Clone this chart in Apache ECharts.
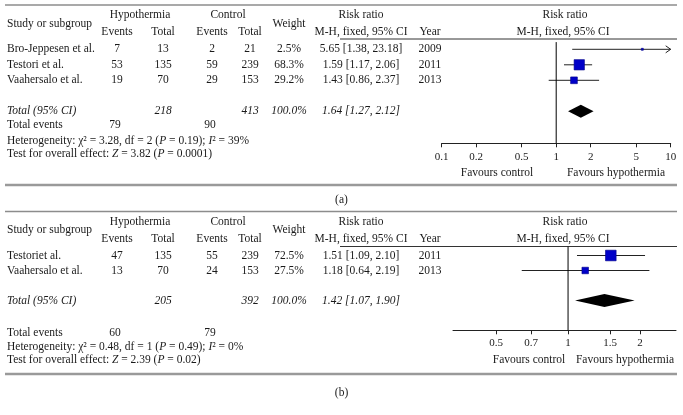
<!DOCTYPE html>
<html>
<head>
<meta charset="utf-8">
<script src="https://cdn.jsdelivr.net/npm/echarts@6/dist/echarts.min.js"></script>
<style>
  html, body { margin: 0; padding: 0; background: #fff; }
  #chart { width: 683px; height: 415px; }
</style>
</head>
<body>
<div id="chart"></div>
<script>
// ---- panel (a) data ----
const studiesA = ['Bro-Jeppesen et al.', 'Testori et al.', 'Vaahersalo et al.']
const hypEventsA = [7, 53, 19]
const hypTotalA = [13, 135, 70]
const ctlEventsA = [2, 59, 29]
const ctlTotalA = [21, 239, 153]
const weightA = [2.5, 68.3, 29.2]
const rrA = [5.65, 1.59, 1.43]
const lowA = [1.38, 1.17, 0.86]
const highA = [23.18, 2.06, 2.37]
const yearA = [2009, 2011, 2013]
const sumTotalsA = [218, 413]          // hypothermia, control
const sumEventsA = [79, 90]            // hypothermia, control
const pooledA = [1.64, 1.27, 2.12]     // rr, low, high
const hetA = ['3.28', '2', '0.19', '39'] // chi2, df, P, I2
const overallA = ['3.82', '0.0001']    // Z, P
const ticksA = [0.1, 0.2, 0.5, 1, 2, 5, 10]

// ---- panel (b) data ----
const studiesB = ['Testoriet al.', 'Vaahersalo et al.']
const hypEventsB = [47, 13]
const hypTotalB = [135, 70]
const ctlEventsB = [55, 24]
const ctlTotalB = [239, 153]
const weightB = [72.5, 27.5]
const rrB = [1.51, 1.18]
const lowB = [1.09, 0.64]
const highB = [2.10, 2.19]
const yearB = [2011, 2013]
const sumTotalsB = [205, 392]
const sumEventsB = [60, 79]
const pooledB = [1.42, 1.07, 1.90]
const hetB = ['0.48', '1', '0.49', '0']
const overallB = ['2.39', '0.02']
const ticksB = [0.5, 0.7, 1, 1.5, 2]

const FONT = 'Liberation Serif'
const INK = '#1a1a1a'
const BLUE = '#0000c8'

// column centres of the left table
const COL = { name: 7, hypEv: 117, hypTot: 163, ctlEv: 212, ctlTot: 250, weight: 289, rr: 361, year: 430, plot: 563 }

// vertical layout of each panel (pixels)
const layA = { top: 5, h1: 15, h2: 32, divider: 39, row0: 49.3, step: 15.5, events: 125, het: 140.5, test: 153.5, bottom: 185, caption: 200,
  favY: 173, favL: 497, favR: 616 }
const layB = { top: 211.5, h1: 221.5, h2: 238.5, divider: 246.5, row0: 255.5, step: 15, events: 333, het: 346.5, test: 359.5, bottom: 374, caption: 393,
  favY: 360, favL: 529, favR: 625 }

function txt (x, y, s, align, italic, size) {
  return {
    type: 'text', x: x, y: y, silent: true,
    style: {
      text: s, fill: INK, fontFamily: FONT, fontSize: size || 11.5,
      fontStyle: italic ? 'italic' : 'normal',
      align: align || 'center', verticalAlign: 'middle',
      textAlign: align || 'center', textVerticalAlign: 'middle'
    }
  }
}
function richTxt (x, y, s) {
  const t = txt(x, y, s, 'left')
  t.style.rich = { i: { fontStyle: 'italic', fontFamily: FONT, fontSize: 11.5, fill: INK } }
  return t
}
function hline (x1, x2, y, color, w) {
  return { type: 'line', silent: true, shape: { x1: x1, y1: y, x2: x2, y2: y }, style: { stroke: color, lineWidth: w } }
}
function fmtRR (v, lo, hi) {
  return v.toFixed(2) + ' [' + lo.toFixed(2) + ', ' + hi.toFixed(2) + ']'
}

// left table + header + footer text for one panel
function tableGraphics (L, d, caption) {
  const g = []
  g.push(hline(5, 677, L.top, '#8c8c8c', 1.5))
  g.push(hline(340, 677, L.divider, '#333', 1))
  g.push(hline(5, 677, L.bottom, '#9a9a9a', 2.5))
  const mid = (L.h1 + L.h2) / 2
  g.push(txt(COL.name, mid, 'Study or subgroup', 'left'))
  g.push(txt((COL.hypEv + COL.hypTot) / 2, L.h1, 'Hypothermia'))
  g.push(txt((COL.ctlEv + COL.ctlTot) / 2 - 3, L.h1, 'Control'))
  g.push(txt(COL.hypEv, L.h2, 'Events'))
  g.push(txt(COL.hypTot, L.h2, 'Total'))
  g.push(txt(COL.ctlEv, L.h2, 'Events'))
  g.push(txt(COL.ctlTot, L.h2, 'Total'))
  g.push(txt(COL.weight, mid, 'Weight'))
  g.push(txt(COL.rr, L.h1, 'Risk ratio'))
  g.push(txt(COL.rr, L.h2, 'M-H, fixed, 95% CI'))
  g.push(txt(COL.year, L.h2, 'Year'))
  g.push(txt(COL.plot + 2, L.h1, 'Risk ratio'))
  g.push(txt(COL.plot, L.h2, 'M-H, fixed, 95% CI'))

  d.studies.forEach(function (s, i) {
    const y = L.row0 + i * L.step
    g.push(txt(COL.name, y, s, 'left'))
    g.push(txt(COL.hypEv, y, String(d.hypEv[i])))
    g.push(txt(COL.hypTot, y, String(d.hypTot[i])))
    g.push(txt(COL.ctlEv, y, String(d.ctlEv[i])))
    g.push(txt(COL.ctlTot, y, String(d.ctlTot[i])))
    g.push(txt(COL.weight, y, d.weight[i].toFixed(1) + '%'))
    g.push(txt(COL.rr, y, fmtRR(d.rr[i], d.low[i], d.high[i])))
    g.push(txt(COL.year, y, String(d.year[i])))
  })
  const yt = L.row0 + (d.studies.length + 1) * L.step
  g.push(txt(COL.name, yt, 'Total (95% CI)', 'left', true))
  g.push(txt(COL.hypTot, yt, String(d.sumTotals[0]), 'center', true))
  g.push(txt(COL.ctlTot, yt, String(d.sumTotals[1]), 'center', true))
  g.push(txt(COL.weight, yt, '100.0%', 'center', true))
  g.push(txt(COL.rr, yt, fmtRR(d.pooled[0], d.pooled[1], d.pooled[2]), 'center', true))

  g.push(txt(COL.name, L.events, 'Total events', 'left'))
  g.push(txt(COL.hypEv - 2, L.events, String(d.sumEvents[0])))
  g.push(txt(COL.ctlEv - 2, L.events, String(d.sumEvents[1])))
  g.push(richTxt(COL.name, L.het, 'Heterogeneity: χ² = ' + d.het[0] + ', df = ' + d.het[1] +
    ' ({i|P} = ' + d.het[2] + '); {i|I}² = ' + d.het[3] + '%'))
  g.push(richTxt(COL.name, L.test, 'Test for overall effect: {i|Z} = ' + d.overall[0] + ' ({i|P} = ' + d.overall[1] + ')'))

  g.push(txt(L.favL, L.favY, 'Favours control'))
  g.push(txt(L.favR, L.favY, 'Favours hypothermia'))
  g.push(txt(341.5, L.caption, caption))
  return g
}

const dataA = { studies: studiesA, hypEv: hypEventsA, hypTot: hypTotalA, ctlEv: ctlEventsA, ctlTot: ctlTotalA, weight: weightA,
  rr: rrA, low: lowA, high: highA, year: yearA, sumTotals: sumTotalsA, sumEvents: sumEventsA, pooled: pooledA, het: hetA, overall: overallA }
const dataB = { studies: studiesB, hypEv: hypEventsB, hypTot: hypTotalB, ctlEv: ctlEventsB, ctlTot: ctlTotalB, weight: weightB,
  rr: rrB, low: lowB, high: highB, year: yearB, sumTotals: sumTotalsB, sumEvents: sumEventsB, pooled: pooledB, het: hetB, overall: overallB }

// square + CI whisker, arrow when the CI runs past the axis
function renderStudy (params, api) {
  const cs = params.coordSys
  const xMax = cs.x + cs.width
  const row = api.value(3)
  const pLo = api.coord([api.value(0), row])
  const pHi = api.coord([api.value(1), row])
  const pEst = api.coord([api.value(2), row])
  const x1 = Math.max(pLo[0], cs.x)
  const x2 = Math.min(pHi[0], xMax)
  const side = 1.25 * Math.sqrt(api.value(4))
  const y = pEst[1]
  const children = [{
    type: 'line', shape: { x1: x1, y1: y, x2: x2, y2: y }, style: { stroke: '#222', lineWidth: 1 }
  }, {
    type: 'rect', shape: { x: pEst[0] - side / 2, y: y - side / 2, width: side, height: side },
    style: { fill: BLUE, stroke: '#00008a', lineWidth: 0.6 }
  }]
  if (pHi[0] > xMax) {
    children.push({
      type: 'polyline', shape: { points: [[xMax - 5, y - 3.5], [xMax, y], [xMax - 5, y + 3.5]] },
      style: { stroke: '#222', lineWidth: 1, fill: null }
    })
  }
  return { type: 'group', children: children }
}

// pooled estimate diamond
function renderDiamond (params, api) {
  const row = api.value(3)
  const lo = api.coord([api.value(0), row])
  const hi = api.coord([api.value(1), row])
  const est = api.coord([api.value(2), row])
  const h = 6.5
  return {
    type: 'polygon',
    shape: { points: [[lo[0], lo[1]], [est[0], est[1] - h], [hi[0], hi[1]], [est[0], est[1] + h]] },
    style: { fill: '#000' }
  }
}

function studyData (d) {
  return d.rr.map(function (v, i) {
    return [Math.log10(d.low[i]), Math.log10(d.high[i]), Math.log10(v), i, d.weight[i]]
  })
}
function pooledData (d) {
  return [[Math.log10(d.pooled[1]), Math.log10(d.pooled[2]), Math.log10(d.pooled[0]), d.studies.length + 1, 100]]
}

function xAxisFor (gridIndex, ticks, min, max, margin) {
  const pos = ticks.map(function (t) { return Math.log10(t) })
  return {
    gridIndex: gridIndex, type: 'value', min: min, max: max,
    axisLine: { show: true, onZero: false, lineStyle: { color: '#222', width: 1 } },
    axisTick: { show: true, customValues: pos, length: 4, lineStyle: { color: '#222' } },
    axisLabel: {
      customValues: pos, margin: margin, color: INK, fontFamily: FONT, fontSize: 11,
      formatter: function (v) {
        let best = 0
        pos.forEach(function (p, i) { if (Math.abs(p - v) < Math.abs(pos[best] - v)) best = i })
        return String(ticks[best])
      }
    },
    splitLine: { show: false }
  }
}

const yMinA = -(layA.row0 - layA.divider) / layA.step
const yMaxA = yMinA + (143.3 - layA.divider) / layA.step
const yMinB = -(layB.row0 - layB.divider) / layB.step
const yMaxB = yMinB + (330.3 - layB.divider) / layB.step

const option = {
  backgroundColor: '#fff',
  animation: false,
  grid: [
    { left: 441.7, top: layA.divider, width: 229, height: 143.3 - layA.divider },
    { left: 453, top: layB.divider, width: 223, height: 330.3 - layB.divider }
  ],
  xAxis: [
    xAxisFor(0, ticksA, -1, 1, 8),
    xAxisFor(1, ticksB, Math.log10(0.33), Math.log10(2.83), 7.5)
  ],
  yAxis: [
    { gridIndex: 0, type: 'value', inverse: true, min: yMinA, max: yMaxA, show: false },
    { gridIndex: 1, type: 'value', inverse: true, min: yMinB, max: yMaxB, show: false }
  ],
  series: [
    // line of no effect
    { type: 'line', xAxisIndex: 0, yAxisIndex: 0, symbol: 'none', silent: true,
      lineStyle: { color: '#000', width: 1 }, data: [[0, yMinA + 0.2], [0, yMaxA]] },
    { type: 'line', xAxisIndex: 1, yAxisIndex: 1, symbol: 'none', silent: true,
      lineStyle: { color: '#000', width: 1 }, data: [[0, yMinB], [0, yMaxB]] },
    { type: 'custom', xAxisIndex: 0, yAxisIndex: 0, renderItem: renderStudy, data: studyData(dataA) },
    { type: 'custom', xAxisIndex: 1, yAxisIndex: 1, renderItem: renderStudy, data: studyData(dataB) },
    { type: 'custom', xAxisIndex: 0, yAxisIndex: 0, renderItem: renderDiamond, data: pooledData(dataA) },
    { type: 'custom', xAxisIndex: 1, yAxisIndex: 1, renderItem: renderDiamond, data: pooledData(dataB) }
  ],
  graphic: tableGraphics(layA, dataA, '(a)').concat(tableGraphics(layB, dataB, '(b)'))
}

const chart = echarts.init(document.getElementById('chart'))
chart.setOption(option)
window.onresize = function () { chart.resize() }
</script>
</body>
</html>
